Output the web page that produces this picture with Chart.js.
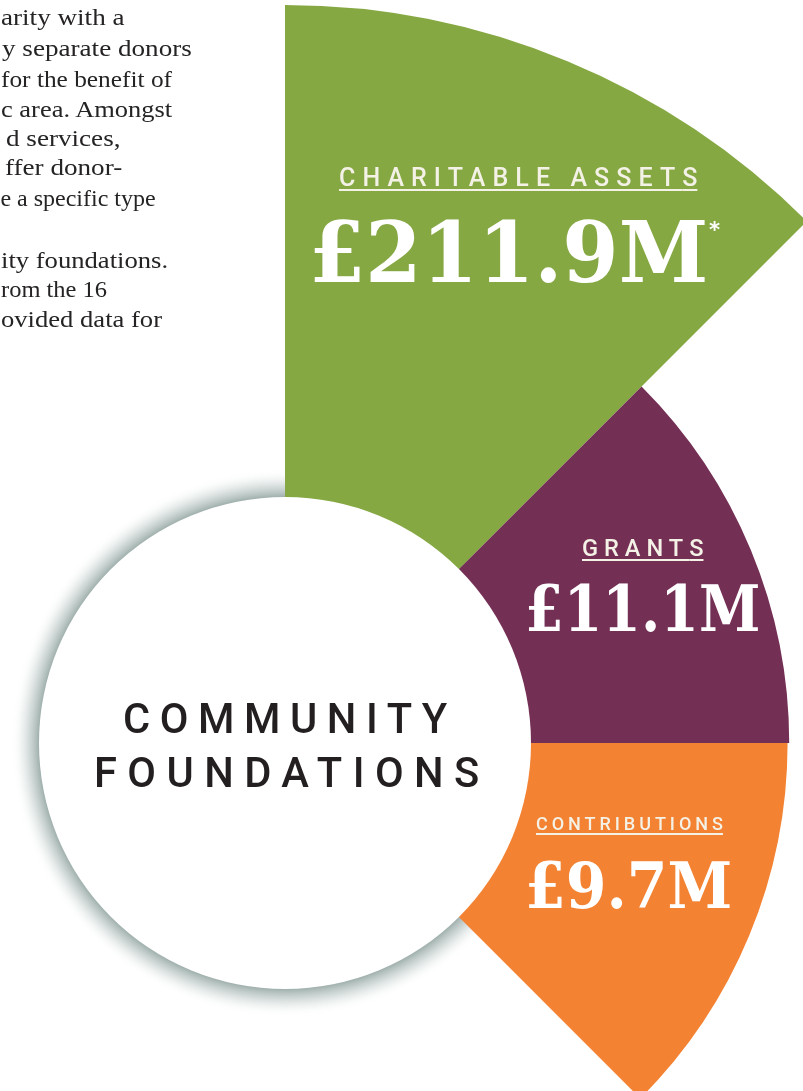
<!DOCTYPE html>
<html>
<head>
<meta charset="utf-8">
<script src="https://cdn.jsdelivr.net/npm/chart.js@4.4.1/dist/chart.umd.min.js"></script>
<style>
  html, body { margin: 0; padding: 0; background: #fff; width: 803px; height: 1091px; overflow: hidden; }
  #wrap { position: absolute; left: -453px; top: 5px; width: 1476px; height: 1476px; }
  .txt { position: absolute; white-space: nowrap; margin: 0; padding: 0; }
</style>
</head>
<body>
<div id="wrap"><canvas id="chart" width="1476" height="1476"></canvas></div>
<div id="labels"></div>
<script>
/* ── Data ────────────────────────────────────────────── */
const categories = ['Charitable assets', 'Grants', 'Contributions'];
const values = [211.9, 11.1, 9.7];
const centreTitle = ['COMMUNITY', 'FOUNDATIONS'];
const paragraph = [
    'arity with a', 'y separate donors', 'for the benefit of', 'c area. Amongst',
    'd services,', 'ffer donor-', 'e a specific type',
    'ity foundations.', 'rom the 16', 'ovided data for',
];

/* ── Styles / layout ─────────────────────────────────── */
const COLORS = ['#86a843', '#742f55', '#f38232'];
const SLICE_ANGLE = 45;        // each wedge spans 45 degrees
const SCALE_MIN = -422;        // radial offset so the small values still reach out
const DISC_R = 246;
const SHADOW_W = 28;
const LABEL_FONT = 'Roboto, "DejaVu Sans", sans-serif';
const NUMBER_FONT = '"DejaVu Serif", serif';
const BODY_FONT = '"Liberation Serif", "DejaVu Serif", serif';

// ink boxes of the wedge labels (page px)
const LABEL_BOX = [
    { left: 340, right: 697, top: 167, bottom: 185 },
    { left: 583, right: 703, top: 540, bottom: 557 },
    { left: 536, right: 723, top: 818, bottom: 831 },
];
const VALUE_BOX = [
    { left: 315, right: 705, top: 221, bottom: 282 },
    { left: 528, right: 758, top: 585, bottom: 632 },
    { left: 529, right: 730, top: 862, bottom: 908 },
];
const TITLE_BOX = [
    { left: 125, right: 448, top: 703, bottom: 733 },
    { left: 97, right: 478, top: 757, bottom: 787 },
];
const PARA_RIGHT = [125, 191, 172, 174, 119, 122, 155, 167, 107, 162];
const PARA_BASE = [25, 55.5, 86.5, 116.5, 145.5, 175, 205.5, 268, 296.5, 326.5];

/* ── Centre disc with soft shadow ────────────────────── */
const centreDisc = {
    id: 'centreDisc',
    beforeDatasetsDraw(chart) {
        const { ctx } = chart;
        const s = chart.scales.r;
        const g = ctx.createRadialGradient(s.xCenter, s.yCenter, DISC_R, s.xCenter, s.yCenter, DISC_R + SHADOW_W);
        g.addColorStop(0, 'rgba(155,172,169,0.95)');
        g.addColorStop(0.4, 'rgba(190,202,200,0.6)');
        g.addColorStop(1, 'rgba(255,255,255,0)');
        ctx.save();
        ctx.fillStyle = g;
        ctx.beginPath();
        ctx.arc(s.xCenter, s.yCenter, DISC_R + SHADOW_W, 0, Math.PI * 2);
        ctx.fill();
        ctx.restore();
    },
    afterDatasetsDraw(chart) {
        const { ctx } = chart;
        const s = chart.scales.r;
        ctx.save();
        ctx.fillStyle = '#ffffff';
        ctx.beginPath();
        ctx.arc(s.xCenter, s.yCenter, DISC_R, 0, Math.PI * 2);
        ctx.fill();
        ctx.restore();
    },
};

new Chart(document.getElementById('chart').getContext('2d'), {
    type: 'polarArea',
    data: {
        labels: categories,
        datasets: [{
            data: values,
            backgroundColor: COLORS,
            borderWidth: 0,
            angle: SLICE_ANGLE,
        }],
    },
    options: {
        responsive: false,
        animation: false,
        layout: { padding: 0 },
        plugins: { legend: { display: false }, tooltip: { enabled: false } },
        scales: {
            r: {
                min: SCALE_MIN,
                max: Math.max(...values),
                startAngle: 0,
                grid: { display: false },
                angleLines: { display: false },
                pointLabels: { display: false },
                ticks: { display: false },
            },
        },
    },
    plugins: [centreDisc],
});

/* ── Text overlays ───────────────────────────────────── */
const meas = document.createElement('canvas').getContext('2d');
const host = document.getElementById('labels');

function placeText(s) {
    const weight = s.weight || 400;
    const ref = s.ref || 'H';
    const fontAt = fs => `${weight} ${fs}px ${s.family}`;
    meas.font = fontAt(100);
    const r100 = meas.measureText(ref);
    const fs = s.size || (s.bottom - s.top) / ((r100.actualBoundingBoxAscent + r100.actualBoundingBoxDescent) / 100);
    meas.font = fontAt(fs);
    const r = meas.measureText(ref);
    const baseline = s.baseline != null ? s.baseline : s.top + r.actualBoundingBoxAscent;
    const m = meas.measureText(s.text);
    const ink = m.actualBoundingBoxLeft + m.actualBoundingBoxRight;

    let spacing = 0, scale = 1;
    if (s.fit === 'space') spacing = (s.right - s.left - ink) / (s.text.length - 1);
    if (s.fit === 'scale') scale = (s.right - s.left) / ink;
    if (s.clamp) scale = Math.min(s.clamp[1], Math.max(s.clamp[0], scale));

    const el = document.createElement('div');
    el.className = 'txt';
    el.style.font = fontAt(fs);
    el.style.lineHeight = fs + 'px';
    el.style.color = s.color;
    const halfLead = (fs - (m.fontBoundingBoxAscent + m.fontBoundingBoxDescent)) / 2;
    el.style.top = (baseline - halfLead - m.fontBoundingBoxAscent) + 'px';
    const left = s.anchor === 'right'
        ? s.right - m.actualBoundingBoxRight * scale
        : s.left + m.actualBoundingBoxLeft * scale;
    el.style.left = left + 'px';

    if (spacing) {
        el.style.letterSpacing = spacing + 'px';
        el.appendChild(document.createTextNode(s.text.slice(0, -1)));
        const last = document.createElement('span');
        last.style.letterSpacing = '0px';
        last.textContent = s.text.slice(-1);
        el.appendChild(last);
    } else {
        el.textContent = s.text;
    }
    if (scale !== 1) {
        el.style.transformOrigin = '0 0';
        el.style.transform = `scaleX(${scale})`;
    }
    if (s.underline) {
        el.style.textDecoration = 'underline';
        el.style.textDecorationThickness = '2px';
        el.style.textUnderlineOffset = '3px';
    }
    host.appendChild(el);
}

categories.forEach((c, i) => {
    placeText({ text: c.toUpperCase(), family: LABEL_FONT, weight: 500, color: '#f4f2e6',
        fit: 'space', underline: true, ...LABEL_BOX[i] });
    placeText({ text: '£' + values[i].toFixed(1) + 'M', family: NUMBER_FONT, weight: 700,
        color: '#ffffff', fit: 'scale', ref: 'M', ...VALUE_BOX[i] });
});
placeText({ text: '*', family: '"DejaVu Sans", sans-serif', weight: 700, color: '#ffffff', ref: '*',
    fit: 'scale', left: 709, right: 720, top: 221, bottom: 231 });

centreTitle.forEach((t, i) => {
    placeText({ text: t, family: LABEL_FONT, weight: 500, color: '#231f20', fit: 'space', ...TITLE_BOX[i] });
});

// body copy is cut by the page edge: stretch each line towards x = 1, right edge fixed
paragraph.forEach((t, i) => {
    placeText({ text: t, family: BODY_FONT, size: 24, color: '#262324', fit: 'scale', anchor: 'right',
        clamp: [1, 1.13], left: 1, right: PARA_RIGHT[i], baseline: PARA_BASE[i] });
});
</script>
</body>
</html>
